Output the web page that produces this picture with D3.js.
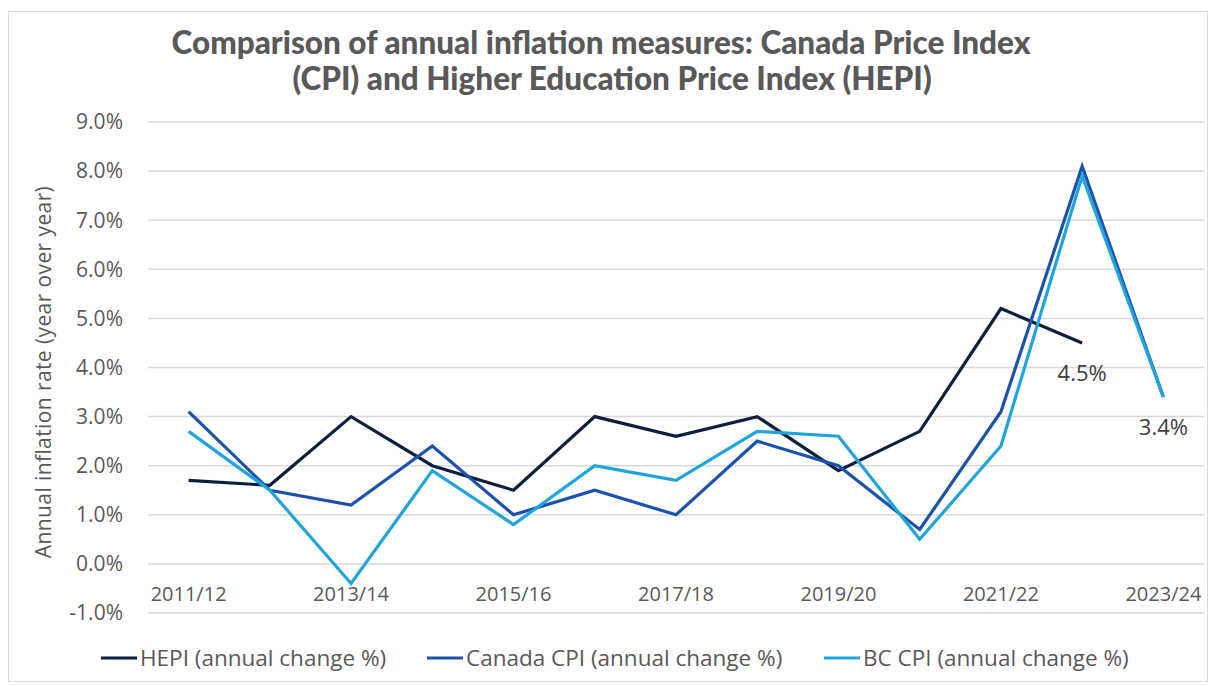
<!DOCTYPE html>
<html>
<head>
<meta charset="utf-8">
<script src="https://cdn.jsdelivr.net/npm/d3@7"></script>
<style>
  body { margin: 0; background: #fff; }
  text { font-family: "Open Sans", sans-serif; }
</style>
</head>
<body>
<div id="viz"></div>
<script>
// categories (fiscal years)
const years = ["2011/12", "2012/13", "2013/14", "2014/15", "2015/16", "2016/17", "2017/18",
               "2018/19", "2019/20", "2020/21", "2021/22", "2022/23", "2023/24"];

// annual change, %
const hepi     = [1.7, 1.6, 3.0, 2.0, 1.5, 3.0, 2.6, 3.0, 1.9, 2.7, 5.2, 4.5, null];
const canadaCpi = [3.1, 1.5, 1.2, 2.4, 1.0, 1.5, 1.0, 2.5, 2.0, 0.7, 3.1, 8.1, 3.4];
const bcCpi    = [2.7, 1.5, -0.4, 1.9, 0.8, 2.0, 1.7, 2.7, 2.6, 0.5, 2.4, 7.9, 3.4];

const seriesNames = ["HEPI (annual change %)", "Canada CPI (annual change %)", "BC CPI (annual change %)"];
const yTicks = [-1, 0, 1, 2, 3, 4, 5, 6, 7, 8, 9];
const xLabelYears = ["2011/12", "2013/14", "2015/16", "2017/18", "2019/20", "2021/22", "2023/24"];

const width = 1215;
const height = 686;
const colors = ["#0c1f3e", "#1d52aa", "#1fa4dc"];

const svg = d3.select("#viz")
    .append("svg")
    .attr("width", width)
    .attr("height", height);

// outer border
svg.append("rect")
    .attr("x", 8.5).attr("y", 11.5)
    .attr("width", 1199).attr("height", 670)
    .attr("fill", "#fff")
    .attr("stroke", "#d9d9d9")
    .attr("stroke-width", 1);

// title
const title = svg.append("text")
    .attr("text-anchor", "middle")
    .style("font-family", "Lato, sans-serif")
    .style("font-weight", "900")
    .style("font-size", "31.5px")
    .attr("fill", "#595959");
title.append("tspan").attr("x", 601).attr("y", 54)
    .text("Comparison of annual inflation measures: Canada Price Index");
title.append("tspan").attr("x", 612).attr("y", 90)
    .text("(CPI) and Higher Education Price Index (HEPI)");

const x = d3.scaleBand()
    .domain(years)
    .range([148, 1204]);

const y = d3.scaleLinear()
    .domain([-1, 9])
    .range([613, 122]);

const cx = d => x(d) + x.bandwidth() / 2;

// gridlines
svg.append("g")
    .selectAll("line")
    .data(yTicks)
    .enter()
    .append("line")
    .attr("x1", 148)
    .attr("x2", 1204)
    .attr("y1", d => y(d))
    .attr("y2", d => y(d))
    .attr("stroke", "#d9d9d9")
    .attr("stroke-width", 1.5);

// y tick labels
svg.append("g")
    .selectAll("text")
    .data(yTicks)
    .enter()
    .append("text")
    .attr("x", 123)
    .attr("y", d => y(d))
    .attr("dy", "0.35em")
    .attr("text-anchor", "end")
    .style("font-size", "21px")
    .attr("fill", "#595959")
    .text(d => d.toFixed(1) + "%");

// y axis title
svg.append("text")
    .attr("transform", "translate(51,372) rotate(-90)")
    .attr("text-anchor", "middle")
    .style("font-size", "21px")
    .style("letter-spacing", "0.4px")
    .attr("fill", "#595959")
    .text("Annual inflation rate (year over year)");

// x labels
svg.append("g")
    .selectAll("text")
    .data(xLabelYears)
    .enter()
    .append("text")
    .attr("x", d => cx(d))
    .attr("y", 601)
    .attr("text-anchor", "middle")
    .style("font-size", "20px")
    .attr("fill", "#595959")
    .text(d => d);

// lines
const allSeries = [hepi, canadaCpi, bcCpi];
const line = d3.line()
    .defined(d => d.v !== null)
    .x(d => cx(d.year))
    .y(d => y(d.v));

svg.append("g")
    .selectAll("path")
    .data(allSeries)
    .enter()
    .append("path")
    .attr("d", s => line(s.map((v, i) => ({ year: years[i], v: v }))))
    .attr("fill", "none")
    .attr("stroke", (s, i) => colors[i])
    .attr("stroke-width", 3.2)
    .attr("stroke-linejoin", "miter");

// end labels
svg.append("text")
    .attr("x", cx("2022/23"))
    .attr("y", y(4.5) + 38)
    .attr("text-anchor", "middle")
    .style("font-size", "22px")
    .attr("fill", "#404040")
    .text(hepi[11].toFixed(1) + "%");

svg.append("text")
    .attr("x", cx("2023/24"))
    .attr("y", y(3.4) + 38)
    .attr("text-anchor", "middle")
    .style("font-size", "22px")
    .attr("fill", "#404040")
    .text(bcCpi[12].toFixed(1) + "%");

// legend
const legendX = [101, 427, 824];
const legend = svg.append("g")
    .selectAll("g")
    .data(seriesNames)
    .enter()
    .append("g")
    .attr("transform", (d, i) => `translate(${legendX[i]},658)`);

legend.append("line")
    .attr("x1", 0).attr("x2", 36)
    .attr("stroke", (d, i) => colors[i])
    .attr("stroke-width", 3.2);

legend.append("text")
    .attr("x", 39)
    .attr("dy", "0.35em")
    .style("font-size", "22.5px")
    .attr("fill", "#595959")
    .text(d => d);
</script>
</body>
</html>
